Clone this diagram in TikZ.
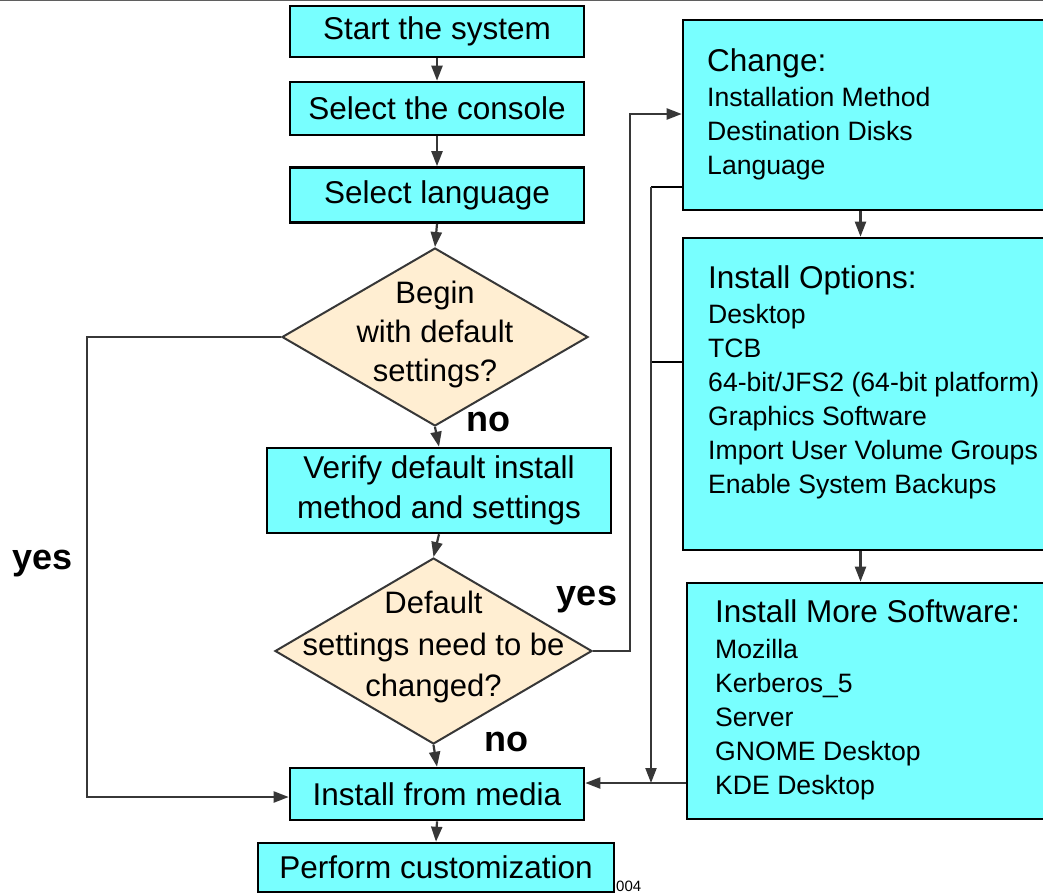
\documentclass[tikz,border=0pt]{standalone}
\usepackage{fontspec}
\setmainfont{Liberation Sans}
\usetikzlibrary{shapes.geometric,arrows.meta,calc}
\definecolor{boxcyan}{RGB}{120,255,255}
\definecolor{decisionfill}{RGB}{255,238,210}
\definecolor{linegray}{RGB}{55,55,55}
\definecolor{rulegray}{RGB}{95,95,95}

\begin{document}
\begin{tikzpicture}[x=1pt,y=-1pt,
  stepbox/.style={draw=black, line width=2.6pt, fill=boxcyan, inner sep=0pt,
    align=center, font=\fontsize{31.5}{40}\selectfont},
  decision/.style={diamond, draw=linegray, line width=2pt, fill=decisionfill,
    inner sep=0pt},
  dtext/.style={align=center, inner sep=0pt, font=\fontsize{31}{39}\selectfont},
  heading/.style={anchor=base west, inner sep=0pt, font=\fontsize{31.5}{36}\selectfont},
  item/.style={anchor=base west, inner sep=0pt, font=\fontsize{26.6}{34}\selectfont},
  answer/.style={inner sep=0pt, font=\fontsize{36}{36}\selectfont\bfseries},
  flow/.style={draw=linegray, line width=2.2pt, -{Triangle[length=15pt,width=11pt]}},
  wire/.style={draw=black, line width=2pt},
]
\clip (0,0) rectangle (1043,894);

% rule along the top edge
\draw[rulegray, line width=2.5pt] (0,0) -- (1043,0);

% main column
\node[stepbox, minimum width=294pt, minimum height=51pt] (start) at (437,31.5) {Start the system};
\node[stepbox, minimum width=294pt, minimum height=53pt] (console) at (437,108.5) {Select the console};
\node[stepbox, minimum width=294pt, minimum height=55pt] (lang) at (437,195) {Select language};
\node[decision, minimum width=306pt, minimum height=178pt] (d1) at (435,337) {};
\node[dtext] (d1t) at (435,334) {Begin\\with default\\settings?};
\node[stepbox, minimum width=344pt, minimum height=85pt] (verify) at (439,490.5)
  {Verify default install\\method and settings};
\node[decision, minimum width=317pt, minimum height=186pt] (d2) at (433.5,651) {};
\node[dtext, font=\fontsize{31}{41.5}\selectfont] (d2t) at (433.5,647) {Default\\settings need to be\\changed?};
\node[stepbox, minimum width=294pt, minimum height=52pt] (media) at (437,794) {Install from media};
\node[stepbox, minimum width=356pt, minimum height=49pt] (custom) at (436,867.5) {Perform customization};

% option boxes on the right
\node[stepbox, minimum width=367pt, minimum height=190pt] (change) at (866.5,115) {};
\node[stepbox, minimum width=367pt, minimum height=312pt] (options) at (866.5,394) {};
\node[stepbox, minimum width=363pt, minimum height=236pt] (more) at (868.5,701) {};

\node[heading] (changeHead) at (707,71) {Change:};
\foreach \t [count=\i] in {Installation Method, Destination Disks, Language}
  \node[item] (chg\i) at (707,{72+34*\i}) {\t};

\node[heading] (optHead) at (708,288) {Install Options:};
\foreach \t [count=\i] in {Desktop, TCB, 64-bit/JFS2 (64-bit platform), Graphics Software,
    Import User Volume Groups, Enable System Backups}
  \node[item] (opt\i) at (708,{289.5+34*\i}) {\t};

\node[heading] (moreHead) at (715,622) {Install More Software:};
\foreach \t [count=\i] in {Mozilla, Kerberos\_5, Server, GNOME Desktop, KDE Desktop}
  \node[item] (sw\i) at (715,{624.5+34*\i}) {\t};

% main flow
\draw[flow] (start.south) -- (console.north);
\draw[flow] (console.south) -- (lang.north);
\draw[flow] (lang.south) -- (d1.north);
\draw[flow] (d1.south) -- (verify.north);
\draw[flow] (verify.south) -- (d2.north);
\draw[flow] (d2.south) -- (media.north);
\draw[flow] (media.south) -- (custom.north);

% branches
\draw[flow] (d1.west) -- ++(-194,0) |- ([yshift=-3pt]media.west);
\draw[flow] (d2.east) -- ++(37,0) |- ([yshift=1pt]change.west);
\draw[flow] ([xshift=-6pt]change.south) -- ([xshift=-6pt]options.north);
\draw[flow] ([xshift=-6pt]options.south) -- ([xshift=-8pt]more.north);

% return path from the option boxes
\coordinate (busTop) at (651,187);
\coordinate (busMid) at (651,362);
\coordinate (busJoin) at (651,783);
\draw[wire] (change.west |- busTop) -- (busTop);
\draw[wire] (options.west |- busMid) -- (busMid);
\draw[flow] (busTop) -- (busJoin);
\draw[flow] (more.west |- busJoin) -- (media.east |- busJoin);

% answers
\node[answer] (noA) at (488,422) {no};
\node[answer] (yesA) at (43,564) {yes};
\node[answer] (yesB) at (587,600) {yes};
\node[answer] (noB) at (506,742) {no};

\node[anchor=base west, inner sep=0pt, font=\fontsize{15}{15}\selectfont] (ref) at (616,891) {004};
\end{tikzpicture}
\end{document}
